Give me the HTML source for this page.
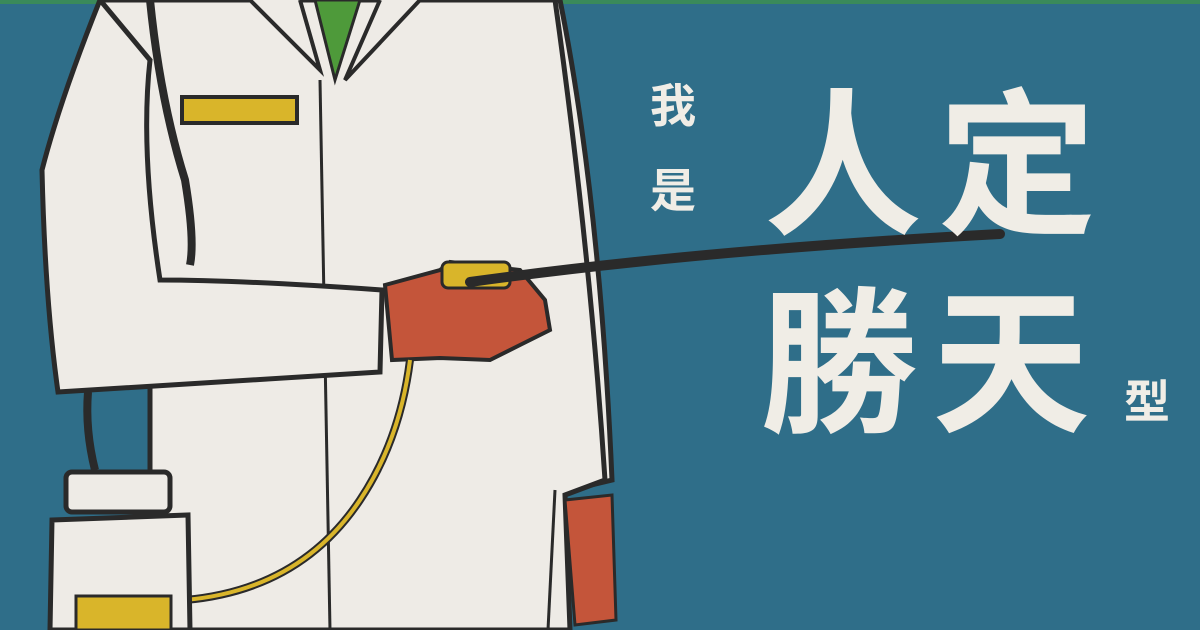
<!DOCTYPE html>
<html><head><meta charset="utf-8">
<style>
html,body{margin:0;padding:0;width:1200px;height:630px;overflow:hidden;background:#2f6e89}
svg{display:block}
text{font-family:"Liberation Sans","Noto Sans CJK TC","Noto Sans CJK SC",sans-serif;font-weight:700;fill:#f0ede6}
</style></head>
<body>
<svg width="1200" height="630" viewBox="0 0 1200 630">
  <rect width="1200" height="630" fill="#2f6e89"/>
  <rect width="1200" height="4" fill="#3a8a5a"/>

  <!-- right sleeve -->
  <path d="M540 0 L560 0 Q600 200 612 480 L562 492 Q560 300 540 0 Z" fill="#eeebe6" stroke="#2a2a2a" stroke-width="5"/>
  <!-- coat body -->
  <path d="M100 0 L555 0 Q590 250 605 480 L565 495 L570 630 L150 630 L150 380 Z" fill="#eeebe6" stroke="#2a2a2a" stroke-width="5"/>
  <!-- placket line -->
  <path d="M320 80 Q325 350 330 630" fill="none" stroke="#2a2a2a" stroke-width="3"/>
  <path d="M555 490 L548 630" fill="none" stroke="#2a2a2a" stroke-width="3"/>
  <!-- collar and tie -->
  <path d="M315 0 L335 80 L360 0 Z" fill="#4e9a3a" stroke="#2a2a2a" stroke-width="3"/>
  <path d="M250 0 L320 70 L300 0 M420 0 L345 80 L380 0" fill="#eeebe6" stroke="#2a2a2a" stroke-width="4"/>
  <!-- pocket bar -->
  <rect x="182" y="97" width="115" height="26" fill="#d9b52a" stroke="#2a2a2a" stroke-width="4"/>

  <!-- left sleeve / arm -->
  <path d="M100 0 Q60 100 42 170 Q45 300 58 392 L380 372 L382 290 Q240 280 160 280 Q140 150 150 60 Z" fill="#eeebe6" stroke="#2a2a2a" stroke-width="5"/>
  <!-- strap -->
  <path d="M150 0 Q160 100 185 180 Q195 240 190 265" fill="none" stroke="#2a2a2a" stroke-width="8"/>
  <path d="M88 392 Q85 430 95 470" fill="none" stroke="#2a2a2a" stroke-width="8"/>

  <!-- glove hand -->
  <path d="M385 285 L440 270 L450 262 L520 270 L545 300 L550 330 L520 345 L490 360 L440 358 L392 360 Z" fill="#c4553a" stroke="#2a2a2a" stroke-width="4"/>
  <rect x="442" y="262" width="68" height="26" rx="6" fill="#d9b52a" stroke="#2a2a2a" stroke-width="3"/>
  <!-- stick -->
  <path d="M470 282 Q700 250 1000 234" fill="none" stroke="#2a2a2a" stroke-width="10" stroke-linecap="round"/>
  <!-- hose -->
  <path d="M410 360 Q400 440 360 500 Q300 590 185 600" fill="none" stroke="#2a2a2a" stroke-width="8"/>
  <path d="M410 360 Q400 440 360 500 Q300 590 185 600" fill="none" stroke="#d9b52a" stroke-width="4"/>

  <!-- right glove -->
  <path d="M565 500 L612 495 L616 620 L575 625 Z" fill="#c4553a" stroke="#2a2a2a" stroke-width="3"/>

  <!-- bottle -->
  <path d="M52 520 L188 515 L190 630 L50 630 Z" fill="#eeebe6" stroke="#2a2a2a" stroke-width="5"/>
  <rect x="66" y="472" width="104" height="40" rx="6" fill="#eeebe6" stroke="#2a2a2a" stroke-width="5"/>
  <rect x="76" y="596" width="95" height="34" fill="#d9b52a" stroke="#2a2a2a" stroke-width="3"/>

  <!-- title text -->
  <text x="650" y="122" font-size="46">我</text>
  <text x="650" y="207" font-size="46">是</text>
  <text x="764" y="222" font-size="158">人</text>
  <text x="938" y="222" font-size="158">定</text>
  <text x="760" y="420" font-size="158">勝</text>
  <text x="932" y="420" font-size="158">天</text>
  <text x="1124" y="418" font-size="46">型</text>
</svg>
</body></html>
